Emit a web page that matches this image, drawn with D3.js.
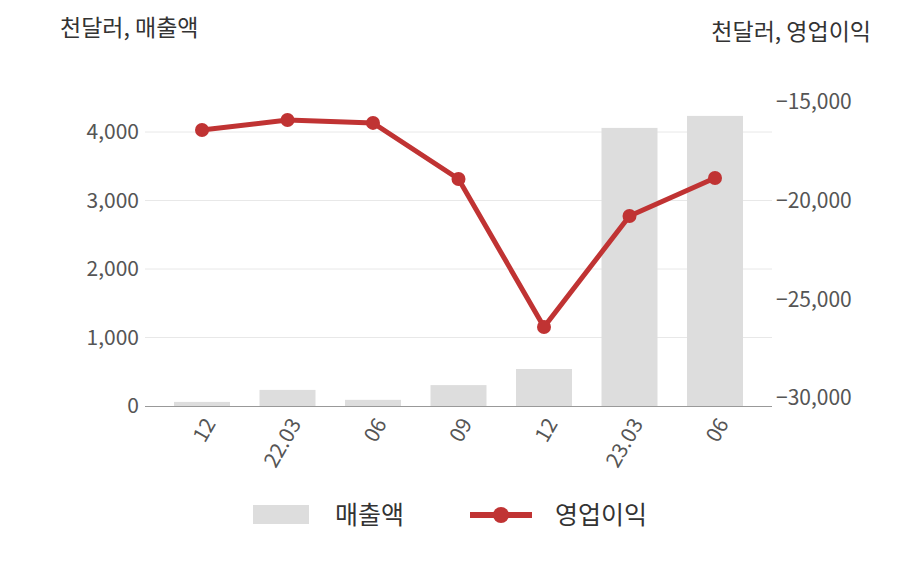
<!DOCTYPE html><html><head><meta charset="utf-8"><script src="https://cdn.jsdelivr.net/npm/d3@7"></script>
<style>body{margin:0;background:#fff}text{font-family:"Noto Sans CJK KR","Noto Sans",sans-serif}</style></head><body>
<svg id="c" width="908" height="580"></svg>
<script>
const categories=["12","22.03","06","09","12 ","23.03","06 "];
const sales=[60,235,90,305,540,4060,4235];
const profit=[-16420,-15910,-16060,-18900,-26400,-20780,-18850];
const leftTicks=[0,1000,2000,3000,4000];
const rightTicks=[-15000,-20000,-25000,-30000];
const svg=d3.select("#c");
const x=d3.scaleBand().domain(categories).range([159.25,757.75]).paddingInner(0.345).paddingOuter(0.1725);
const yL=d3.scaleLinear().domain([0,4000]).range([406,132]);
const yR=d3.scaleLinear().domain([-30000,-15000]).range([398,102]);
const fmt=d3.format(",");
svg.append("g").selectAll("line").data(leftTicks.slice(1)).join("line")
 .attr("x1",145).attr("x2",772).attr("y1",d=>yL(d)).attr("y2",d=>yL(d)).attr("stroke","#e8e8e8");
svg.append("g").selectAll("rect").data(sales).join("rect")
 .attr("x",(d,i)=>x(categories[i])).attr("width",x.bandwidth()).attr("y",d=>yL(d)).attr("height",d=>406-yL(d)).attr("fill","#dddddd");
svg.append("line").attr("x1",145).attr("x2",772).attr("y1",406.5).attr("y2",406.5).attr("stroke","#999");
svg.append("g").selectAll("text").data(leftTicks).join("text").attr("x",139).attr("y",d=>yL(d)).attr("dy","0.35em")
 .attr("text-anchor","end").attr("font-size",21).attr("fill","#555").text(fmt);
svg.append("g").selectAll("text").data(rightTicks).join("text").attr("x",776).attr("y",d=>yR(d)).attr("dy","0.35em")
 .attr("font-size",21).attr("fill","#555").text(fmt);
svg.append("g").selectAll("text").data(categories).join("text")
 .attr("transform",d=>`translate(${x(d)+x.bandwidth()/2+8},${420}) rotate(-60)`)
 .attr("text-anchor","end").attr("dy","0.35em").attr("font-size",21).attr("fill","#555").text(d=>d.trim());
const cx=(i)=>x(categories[i])+x.bandwidth()/2;
svg.append("path").attr("d",d3.line().x((d,i)=>cx(i)).y(d=>yR(d))(profit)).attr("fill","none").attr("stroke","#c03333").attr("stroke-width",5);
svg.append("g").selectAll("circle").data(profit).join("circle").attr("cx",(d,i)=>cx(i)).attr("cy",d=>yR(d)).attr("r",7).attr("fill","#c03333");
svg.append("text").attr("x",60).attr("y",36).attr("font-size",23).attr("fill","#333").text("천달러, 매출액");
svg.append("text").attr("x",871).attr("y",40).attr("text-anchor","end").attr("font-size",23).attr("fill","#333").text("천달러, 영업이익");
svg.append("rect").attr("x",253).attr("y",505).attr("width",56).attr("height",19).attr("fill","#dddddd");
svg.append("text").attr("x",335).attr("y",515).attr("dy","0.35em").attr("font-size",25).attr("fill","#333").text("매출액");
svg.append("line").attr("x1",470).attr("x2",532).attr("y1",515).attr("y2",515).attr("stroke","#c03333").attr("stroke-width",6);
svg.append("circle").attr("cx",501).attr("cy",515).attr("r",8).attr("fill","#c03333");
svg.append("text").attr("x",555).attr("y",515).attr("dy","0.35em").attr("font-size",25).attr("fill","#333").text("영업이익");
</script></body></html>
